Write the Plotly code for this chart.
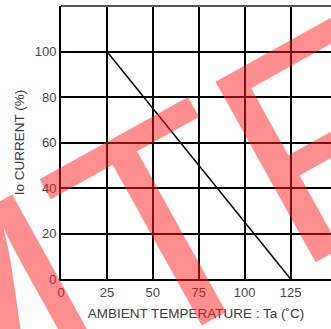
import plotly.graph_objects as go

# Derating curve: output current vs ambient temperature
temperature = [25, 125]
current_pct = [100, 0]

x_ticks = [0, 25, 50, 75, 100, 125, 150]
y_ticks = [0, 20, 40, 60, 80, 100, 120]
x_tick_text = ["0", "25", "50", "75", "100", "125", ""]
y_tick_text = ["0", "20", "40", "60", "80", "100", ""]

fig = go.Figure()
fig.add_trace(go.Scatter(
    x=temperature, y=current_pct, mode="lines",
    line=dict(color="black", width=1.5),
    showlegend=False, hoverinfo="skip",
))

tick_font = dict(family="Liberation Sans, Arial, sans-serif", size=13, color="#444444")
title_font = dict(family="Liberation Sans, Arial, sans-serif", size=13.5, color="#3a3a3a")

fig.update_layout(
    width=331, height=329,
    margin=dict(l=61, r=0, t=6, b=50),
    paper_bgcolor="white", plot_bgcolor="white",
    font=tick_font,
    xaxis=dict(
        range=[0, 147], tickvals=x_ticks, ticktext=x_tick_text,
        showgrid=True, gridcolor="black", gridwidth=2,
        zeroline=False, showline=True, linecolor="black", linewidth=2,
        mirror=False, ticks="", fixedrange=True, tickfont=tick_font,
        title=dict(text="AMBIENT TEMPERATURE : Ta (˚C)", font=title_font, standoff=10),
    ),
    yaxis=dict(
        range=[0, 120], tickvals=y_ticks, ticktext=y_tick_text,
        showgrid=True, gridcolor="black", gridwidth=2,
        zeroline=False, showline=True, linecolor="black", linewidth=2,
        ticks="", fixedrange=True, tickfont=tick_font,
        title=dict(text="Io CURRENT (%)", font=title_font, standoff=7),
    ),
    shapes=[dict(type="line", xref="paper", yref="paper", x0=0, x1=1, y0=1, y1=1,
                 line=dict(color="#555555", width=2))],
)

# Diagonal watermark across the chart
fig.add_annotation(
    text="MTF", xref="paper", yref="paper", x=0.27, y=0.13,
    xanchor="center", yanchor="middle", showarrow=False, textangle=-29,
    font=dict(family="Liberation Sans, Arial, sans-serif", size=300,
              color="rgba(255,30,30,0.5)"),
)

fig.write_html("out.html")
